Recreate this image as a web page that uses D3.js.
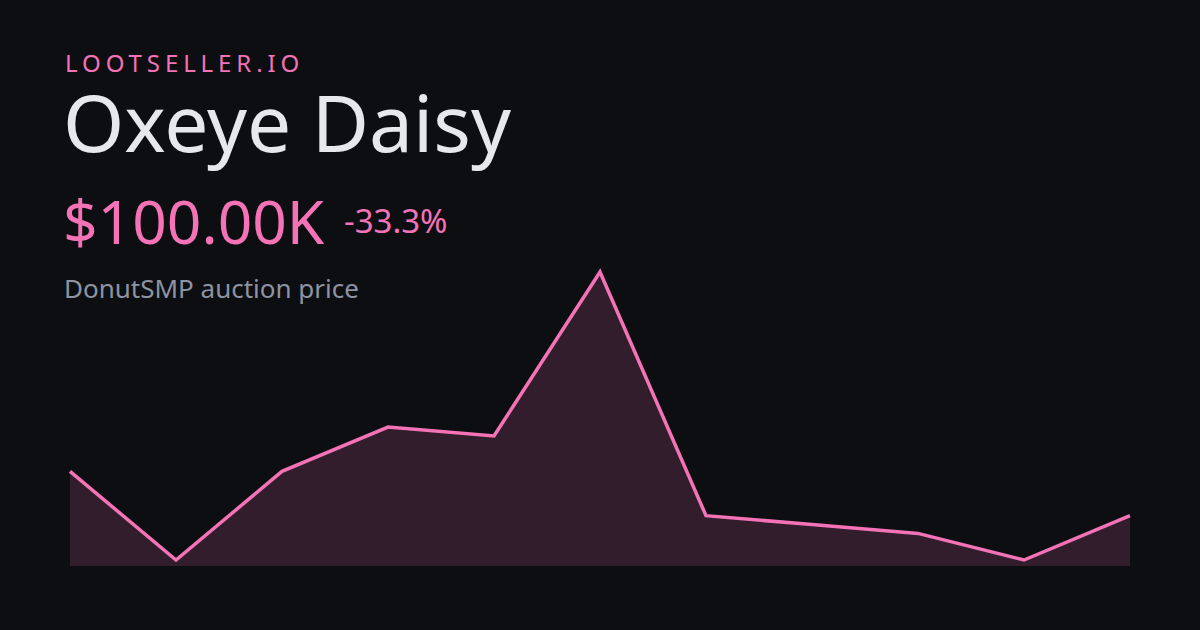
<!DOCTYPE html>
<html><head><meta charset="utf-8">
<script src="https://cdn.jsdelivr.net/npm/d3@7"></script>
<style>
html,body{margin:0;padding:0;background:#0d0e11;}
svg{display:block;}
text{font-family:"Noto Sans",sans-serif;}
</style></head>
<body>
<svg id="chart" width="1200" height="630"></svg>
<script>
const brand = "LOOTSELLER.IO";
const itemName = "Oxeye Daisy";
const priceLabel = "$100.00K";
const changeLabel = "-33.3%";
const subtitle = "DonutSMP auction price";
const days = [0,1,2,3,4,5,6,7,8,9,10];
const prices = [150000,50000,150000,200000,190000,375000,100000,90000,80000,50000,100000];

const svg = d3.select("#chart");
svg.append("rect").attr("width",1200).attr("height",630).attr("fill","#0d0e11");

const pink = "#f472b6";
const x = d3.scaleLinear().domain(d3.extent(days)).range([70,1130]);
const y = d3.scaleLinear().domain(d3.extent(prices)).range([560,272]);
const data = days.map((d,i)=>({d, v:prices[i]}));

svg.append("path").datum(data)
  .attr("d", d3.area().x(p=>x(p.d)).y0(566).y1(p=>y(p.v)))
  .attr("fill", pink).attr("fill-opacity",0.16);
svg.append("path").datum(data)
  .attr("d", d3.line().x(p=>x(p.d)).y(p=>y(p.v)))
  .attr("fill","none").attr("stroke",pink).attr("stroke-width",3.5)
  .attr("stroke-linejoin","miter");

svg.append("text").text(brand).attr("x",65).attr("y",72)
  .attr("font-size",24).attr("letter-spacing",4.9).attr("fill",pink);
svg.append("text").text(itemName).attr("x",63).attr("y",152)
  .attr("font-size",78.5).attr("fill","#e7e8ec");
svg.append("text").text(priceLabel).attr("x",63).attr("y",244)
  .attr("font-size",60.5).attr("fill",pink);
svg.append("text").text(changeLabel).attr("x",344).attr("y",233)
  .attr("font-size",33).attr("fill",pink);
svg.append("text").text(subtitle).attr("x",64).attr("y",298)
  .attr("font-size",26).attr("fill","#8e93a3");
</script>
</body></html>
